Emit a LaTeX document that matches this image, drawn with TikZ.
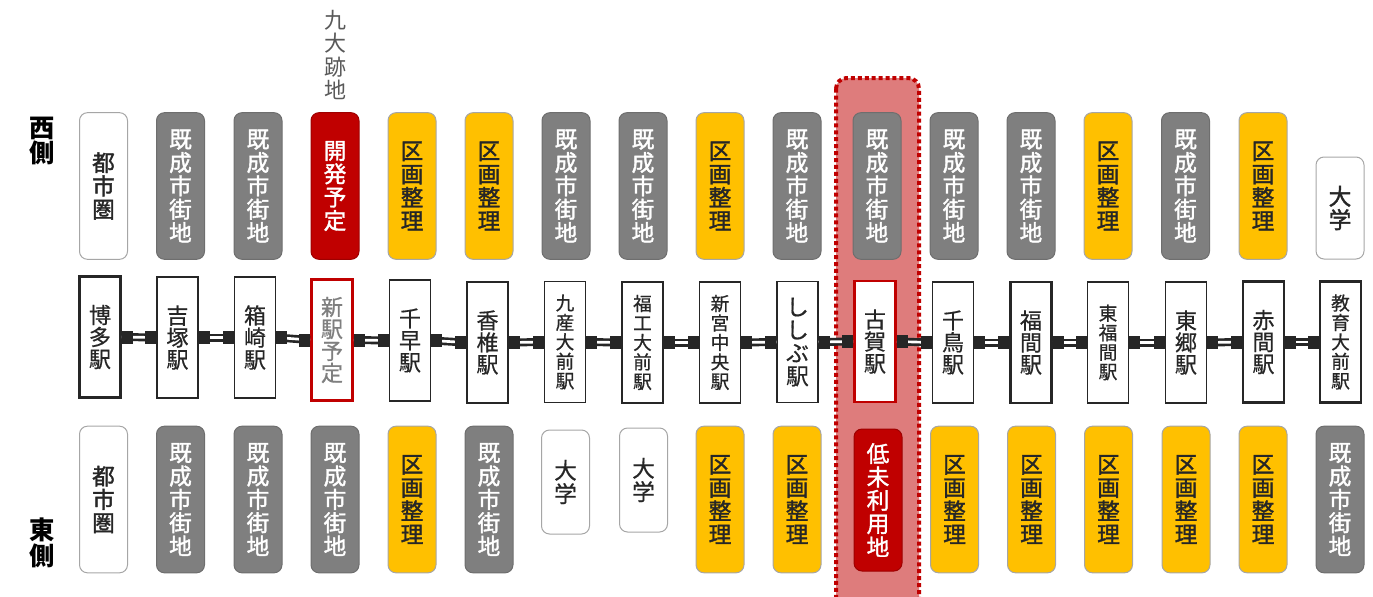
\documentclass[tikz,border=0pt]{standalone}
\usepackage{fontspec}
\setmainfont{Noto Sans CJK JP}
\newfontfamily\medfont{Noto Sans CJK JP}[FakeBold=1.6]
\newfontfamily\stafont{Noto Sans CJK JP}[FakeBold=0.6]
\definecolor{kgray}{HTML}{7F7F7F}
\definecolor{kgrayd}{HTML}{6E6E6E}
\definecolor{kyellow}{HTML}{FFC000}
\definecolor{kyd}{HTML}{A6A6A6}
\definecolor{kred}{HTML}{C00000}
\definecolor{krd}{HTML}{9E0000}
\definecolor{kwd}{HTML}{A6A6A6}
\definecolor{ktext}{HTML}{262626}
\definecolor{khl}{HTML}{DE7C7C}
\definecolor{knote}{HTML}{595959}
\newcommand{\kisei}{既\\成\\市\\街\\地}
\newcommand{\kukaku}{区\\画\\整\\理}
\newcommand{\toshiken}{都\\市\\圏}
\newcommand{\daigaku}{大\\学}
\begin{document}
\begin{tikzpicture}[x=0.75pt,y=-0.75pt,
  box/.style={rounded corners=6pt, minimum width=36pt, minimum height=110pt, inner sep=0pt,
    align=center, font=\fontsize{17}{17.5}\medfont, line width=0.75pt},
  gbox/.style={box, fill=kgray, draw=kgrayd, text=white},
  ybox/.style={box, fill=kyellow, draw=kyd, text=ktext},
  rbox/.style={box, fill=kred, draw=krd, text=white},
  wbox/.style={box, fill=white, draw=kwd, text=ktext},
  sta/.style={draw=ktext, fill=white, minimum width=30.75pt, minimum height=90.75pt, inner sep=0pt,
    align=center, font=\fontsize{16.5}{16.5}\stafont, text=ktext, line width=1.1pt},
  stab/.style={sta, line width=2.2pt},
  stasmall/.style={font=\fontsize{14}{14.6}\stafont},
  stared/.style={sta, draw=kred, line width=2.2pt},
  side/.style={align=center, font=\fontsize{19}{19}\selectfont\bfseries, text=black, inner sep=0pt},
  note/.style={align=center, font=\fontsize{16.5}{17.3}\selectfont, text=knote, inner sep=0pt},
  rail/.style={draw=ktext, line width=2pt, double=white, double distance=2pt},
  railblock/.style={fill=ktext}
]
\path[use as bounding box] (0,0) rectangle (1373,596);
\begin{scope}
  \clip (0,0) rectangle (1373,596);
  \draw[fill=khl, draw=kred, line width=3pt, dash pattern=on 3pt off 2.2pt, rounded corners=8pt]
    (836,78) rectangle (919,620);
\end{scope}

% side labels
\node[side] (west) at (42,141) {西\\側};
\node[side] (east) at (42,543) {東\\側};
\node[note] (kyudai) at (335,55) {九\\大\\跡\\地};

% top row
\node[wbox] (t1) at (103.5,186) {\toshiken};
\node[gbox] (t2) at (180.5,186) {\kisei};
\node[gbox] (t3) at (258,186) {\kisei};
\node[rbox] (t4) at (335,186) {開\\発\\予\\定};
\node[ybox] (t5) at (412,186) {\kukaku};
\node[ybox] (t6) at (489,186) {\kukaku};
\node[gbox] (t7) at (566,186) {\kisei};
\node[gbox] (t8) at (643,186) {\kisei};
\node[ybox] (t9) at (720,186) {\kukaku};
\node[gbox] (t10) at (797,186) {\kisei};
\node[gbox] (t11) at (877,186) {\kisei};
\node[gbox] (t12) at (954,186) {\kisei};
\node[gbox] (t13) at (1031,186) {\kisei};
\node[ybox] (t14) at (1108,186) {\kukaku};
\node[gbox] (t15) at (1185.5,186) {\kisei};
\node[ybox] (t16) at (1263,186) {\kukaku};
\node[wbox, minimum height=76.5pt] (t17) at (1340,208) {\daigaku};

% bottom row
\node[wbox] (b1) at (103.5,499.5) {\toshiken};
\node[gbox] (b2) at (180.5,499.5) {\kisei};
\node[gbox] (b3) at (258,499.5) {\kisei};
\node[gbox] (b4) at (335,499.5) {\kisei};
\node[ybox] (b5) at (412,499.5) {\kukaku};
\node[gbox] (b6) at (489,499.5) {\kisei};
\node[wbox, minimum height=78pt, font=\fontsize{17}{17.5}\stafont] (b7) at (565.5,482) {\daigaku};
\node[wbox, minimum height=78pt, font=\fontsize{17}{17.5}\stafont] (b8) at (643.5,480) {\daigaku};
\node[ybox] (b9) at (720,499.5) {\kukaku};
\node[ybox] (b10) at (797,499.5) {\kukaku};
\node[rbox, minimum height=106.5pt] (b11) at (878,500) {低\\未\\利\\用\\地};
\node[ybox] (b12) at (954.5,499.5) {\kukaku};
\node[ybox] (b13) at (1031.5,499.5) {\kukaku};
\node[ybox] (b14) at (1108.5,499.5) {\kukaku};
\node[ybox] (b15) at (1186,499.5) {\kukaku};
\node[ybox] (b16) at (1263,499.5) {\kukaku};
\node[gbox] (b17) at (1340,499.5) {\kisei};

% stations
\node[stab] (s1) at (100,337) {博\\多\\駅};
\node[stab] (s2) at (177.5,337.5) {吉\\塚\\駅};
\node[sta] (s3) at (255,337.5) {箱\\崎\\駅};
\node[stared, text=kgray] (s4) at (332,340) {新\\駅\\予\\定};
\node[sta] (s5) at (410,340.5) {千\\早\\駅};
\node[stab] (s6) at (487.5,342.5) {香\\椎\\駅};
\node[sta, stasmall] (s7) at (565,342) {九\\産\\大\\前\\駅};
\node[stab, stasmall] (s8) at (642.5,342.5) {福\\工\\大\\前\\駅};
\node[sta, stasmall] (s9) at (720,342.5) {新\\宮\\中\\央\\駅};
\node[sta, font=\fontsize{17}{17.3}\stafont] (s10) at (797.5,342) {し\\し\\ぶ\\駅};
\node[stared] (s11) at (875,341.5) {古\\賀\\駅};
\node[sta] (s12) at (953,342.5) {千\\鳥\\駅};
\node[stab] (s13) at (1031,342.5) {福\\間\\駅};
\node[sta, stasmall] (s14) at (1108,342.5) {東\\福\\間\\駅};
\node[sta] (s15) at (1186,342.5) {東\\郷\\駅};
\node[stab] (s16) at (1263.5,342) {赤\\間\\駅};
\node[sta, line width=1.6pt, stasmall] (s17) at (1340.5,342) {教\\育\\大\\前\\駅};

% rails
\foreach \i [evaluate=\i as \j using int(\i+1)] in {1,...,16}{
  \draw[rail] (s\i.east) -- (s\j.west);
  \fill[railblock] (s\i.east) ++(0,-6.5) rectangle ++(11,13);
  \fill[railblock] (s\j.west) ++(-11,-6.5) rectangle ++(11,13);
}
\end{tikzpicture}
\end{document}
